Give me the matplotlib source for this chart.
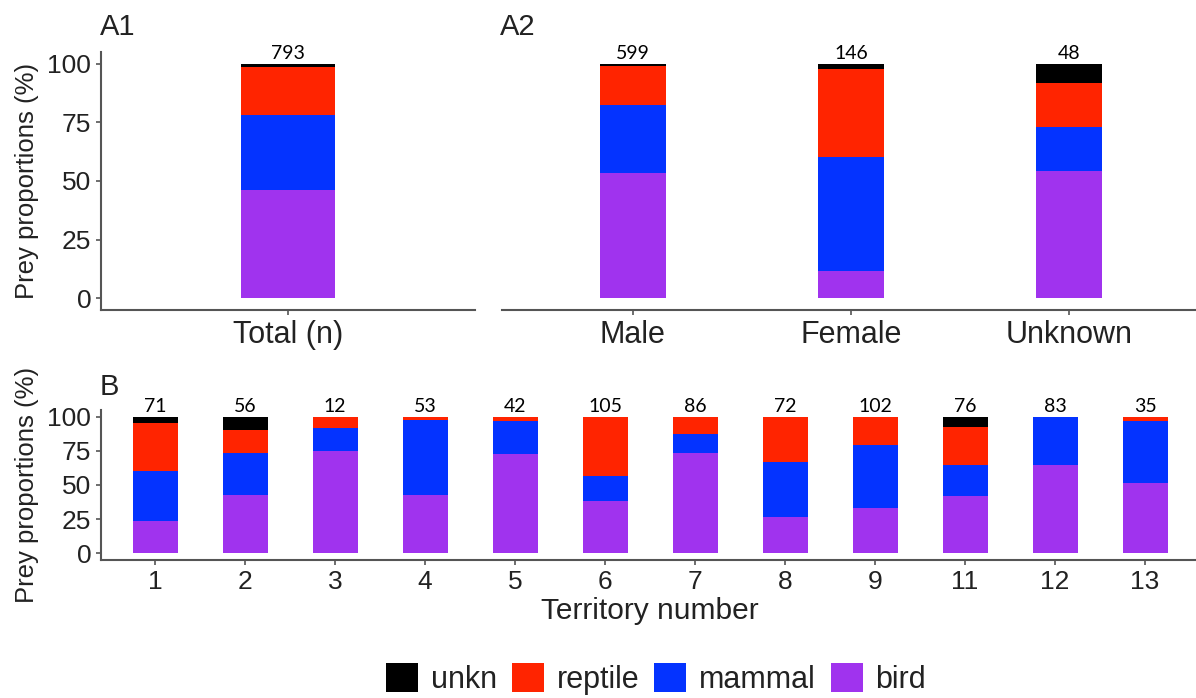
import matplotlib
matplotlib.use("Agg")
import matplotlib.pyplot as plt
from matplotlib.patches import Patch
import numpy as np

plt.rcParams['font.family'] = ['Liberation Sans', 'DejaVu Sans']

# ---- data ----
prey_types = ["bird", "mammal", "reptile", "unkn"]          # stacking order (bottom -> top)
colors = {"bird": "#A033EE", "mammal": "#0433FF", "reptile": "#FF2400", "unkn": "#000000"}

total_cat = ["Total (n)"]
total_bird = [46.0]
total_mammal = [32.2]
total_reptile = [20.4]
total_unkn = [1.4]
total_n = [793]

sex_cat = ["Male", "Female", "Unknown"]
sex_bird = [53.5, 11.8, 54.2]
sex_mammal = [29.1, 48.6, 18.8]
sex_reptile = [16.4, 37.4, 18.7]
sex_unkn = [1.0, 2.2, 8.3]
sex_n = [599, 146, 48]

terr_cat = ["1", "2", "3", "4", "5", "6", "7", "8", "9", "11", "12", "13"]
terr_bird = [23.6, 42.9, 75.1, 42.9, 72.9, 38.3, 73.2, 26.6, 32.9, 41.7, 64.4, 51.5]
terr_mammal = [36.6, 30.3, 16.4, 55.1, 23.9, 18.5, 13.9, 40.0, 46.6, 22.7, 35.6, 45.3]
terr_reptile = [35.6, 17.3, 8.5, 2.0, 3.2, 43.2, 12.9, 33.4, 20.5, 28.0, 0.0, 3.2]
terr_unkn = [4.2, 9.5, 0.0, 0.0, 0.0, 0.0, 0.0, 0.0, 0.0, 7.6, 0.0, 0.0]
terr_n = [71, 56, 12, 53, 42, 105, 86, 72, 102, 76, 83, 35]

W, H = 1196, 698
fig = plt.figure(figsize=(W / 100, H / 100), dpi=100)

def rect(l, r, t, b):
    return [l / W, 1 - b / H, (r - l) / W, (b - t) / H]

SPINE = "#555555"
TXT = "#222222"

def stacked(ax, cats, series, counts, width, tick_fs, count_fs):
    x = np.arange(len(cats))
    bottom = np.zeros(len(cats))
    for name, vals in zip(prey_types, series):
        vals = np.asarray(vals, float)
        ax.bar(x, vals, width, bottom=bottom, color=colors[name], edgecolor='none', zorder=2)
        bottom += vals
    for xi, top, n in zip(x, bottom, counts):
        ax.annotate(str(n), (xi, top), xytext=(0, 4.5), textcoords='offset pixels',
                    ha='center', va='baseline', fontsize=count_fs, family=['Lato', 'DejaVu Sans'],
                    color='black')
    ax.set_xticks(x)
    ax.set_xticklabels(cats, fontsize=tick_fs, color=TXT)
    ax.set_xlim(-0.6, len(cats) - 0.4)
    ax.set_ylim(-5, 105)
    ax.set_yticks([0, 25, 50, 75, 100])
    for s in ['top', 'right']:
        ax.spines[s].set_visible(False)
    for s in ['left', 'bottom']:
        ax.spines[s].set_color(SPINE)
        ax.spines[s].set_linewidth(1.5)
    ax.tick_params(axis='both', colors=SPINE, width=1.2, length=3.6, labelcolor=TXT)
    ax.tick_params(axis='y', labelsize=19)
    return ax

axA1 = fig.add_axes(rect(101, 475, 52, 310))
stacked(axA1, total_cat, [total_bird, total_mammal, total_reptile, total_unkn], total_n, 0.3, 22, 14)
axA1.set_ylabel("Prey proportions (%)", fontsize=18.5, color=TXT, labelpad=6)

axA2 = fig.add_axes(rect(502, 1200, 52, 310))
stacked(axA2, sex_cat, [sex_bird, sex_mammal, sex_reptile, sex_unkn], sex_n, 0.3, 22, 14)
axA2.spines['left'].set_visible(False)
axA2.tick_params(axis='y', left=False, labelleft=False)

axB = fig.add_axes(rect(101, 1199, 410, 560))
stacked(axB, terr_cat, [terr_bird, terr_mammal, terr_reptile, terr_unkn], terr_n, 0.5, 19, 14)
axB.set_ylabel("Prey proportions (%)", fontsize=18.5, color=TXT, labelpad=6)
axB.set_xlabel("Territory number", fontsize=21.5, color=TXT, labelpad=2)

fig.text(100 / W, 1 - 35 / H, "A1", fontsize=21, color=TXT, ha='left', va='baseline')
fig.text(500 / W, 1 - 35 / H, "A2", fontsize=21, color=TXT, ha='left', va='baseline')
fig.text(100 / W, 1 - 395 / H, "B", fontsize=21, color=TXT, ha='left', va='baseline')

legend_order = ["unkn", "reptile", "mammal", "bird"]
handles = [Patch(facecolor=colors[k], edgecolor='none', label=k) for k in legend_order]
fig.legend(handles=handles, loc='center', bbox_to_anchor=(656 / W, 1 - 679 / H), ncol=4,
           frameon=False, fontsize=22, handlelength=1.05, handleheight=1.05,
           handletextpad=0.4, columnspacing=0.5, borderpad=0, labelcolor=TXT)

fig.savefig("out.png", dpi=100)
